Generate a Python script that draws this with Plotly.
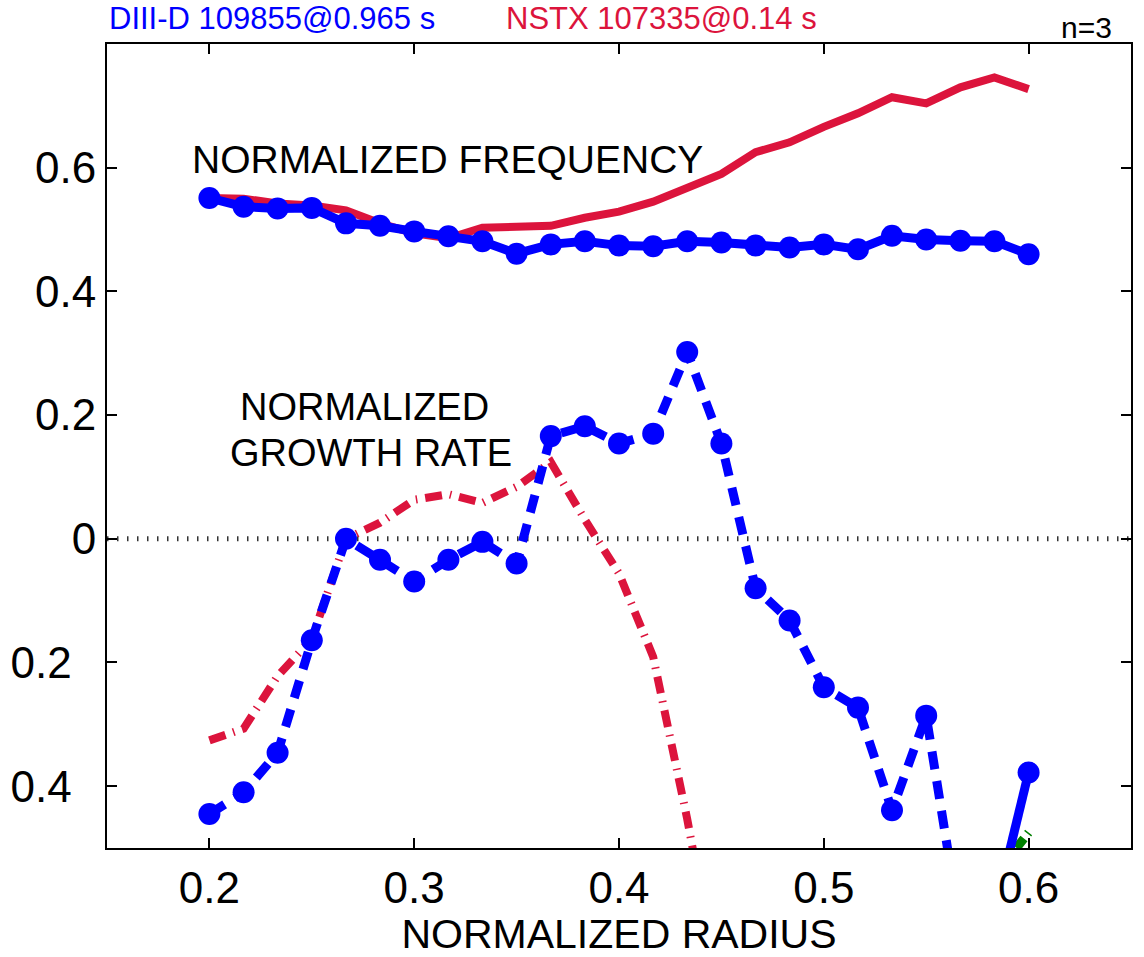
import plotly.graph_objects as go

# ---- data ----
radius = [0.2, 0.2167, 0.2333, 0.25, 0.2667, 0.2833, 0.3, 0.3167, 0.3333, 0.35,
          0.3667, 0.3833, 0.4, 0.4167, 0.4333, 0.45, 0.4667, 0.4833, 0.5, 0.5167,
          0.5333, 0.55, 0.5667, 0.5833, 0.6]

freq_diiid = [0.551, 0.537, 0.534, 0.535, 0.510, 0.506, 0.497, 0.489, 0.481, 0.461,
              0.476, 0.481, 0.474, 0.473, 0.481, 0.479, 0.474, 0.471, 0.476, 0.468,
              0.490, 0.484, 0.482, 0.481, 0.460]

freq_nstx = [0.551, 0.550, 0.542, 0.539, 0.531, 0.510, 0.494, 0.486, 0.503, 0.506,
             0.506, 0.519, 0.529, 0.545, 0.569, 0.590, 0.625, 0.641, 0.666, 0.688,
             0.714, 0.704, 0.730, 0.746, 0.727]

gr_diiid = [-0.445, -0.410, -0.346, -0.164, 0.000, -0.034, -0.069, -0.034, -0.005, -0.040,
            0.166, 0.182, 0.154, 0.170, 0.302, 0.154, -0.080, -0.132, -0.240, -0.273,
            -0.439, -0.286, -0.630, -0.606, -0.378]

radius_nstx_gr = [0.2, 0.2167, 0.2333, 0.25, 0.2667, 0.2833, 0.3, 0.3167, 0.3333, 0.35,
                  0.3667, 0.3833, 0.4, 0.4167, 0.4333, 0.45]
gr_nstx = [-0.326, -0.307, -0.222, -0.162, 0.000, 0.026, 0.063, 0.072, 0.058, 0.084,
           0.124, 0.031, -0.056, -0.191, -0.453, -0.750]

radius_green = [0.6, 0.5833]
gr_green = [-0.475, -0.545]

x_ticks = [0.2, 0.3, 0.4, 0.5, 0.6]
y_ticks = [-0.4, -0.2, 0, 0.2, 0.4, 0.6]
y_ticktext = ["0.4\u00a0\u00a0", "0.2\u00a0\u00a0", "0", "0.2", "0.4", "0.6"]

BLUE = "rgb(0,0,255)"
RED = "rgb(220,20,60)"
GREEN = "rgb(0,128,0)"
FONT = "Liberation Sans, Arial, sans-serif"

fig = go.Figure()

# zero reference line (dotted)
fig.add_trace(go.Scatter(x=[0.15, 0.65], y=[0, 0], mode="lines",
                         line=dict(color="#333333", width=5, dash="1.5px,8.5px"),
                         hoverinfo="skip", showlegend=False))

# frequency curves
fig.add_trace(go.Scatter(x=radius, y=freq_nstx, mode="lines",
                         line=dict(color=RED, width=8), showlegend=False))
fig.add_trace(go.Scatter(x=radius, y=freq_diiid, mode="lines+markers",
                         line=dict(color=BLUE, width=9),
                         marker=dict(color=BLUE, size=22, opacity=1), showlegend=False))

# growth rate curves
fig.add_trace(go.Scatter(x=radius_nstx_gr, y=gr_nstx, mode="lines",
                         line=dict(color=RED, width=8, dash="17px,8px,1.5px,8px"),
                         showlegend=False))
fig.add_trace(go.Scatter(x=radius_green, y=gr_green, mode="lines",
                         line=dict(color=GREEN, width=9, dash="1.5px,6px,12px,6px"),
                         showlegend=False))
fig.add_trace(go.Scatter(x=radius[:24], y=gr_diiid[:24], mode="lines",
                         line=dict(color=BLUE, width=9, dash="18px,12px"),
                         showlegend=False))
fig.add_trace(go.Scatter(x=radius[23:], y=gr_diiid[23:], mode="lines",
                         line=dict(color=BLUE, width=9), showlegend=False))
fig.add_trace(go.Scatter(x=radius, y=gr_diiid, mode="markers",
                         marker=dict(color=BLUE, size=22, opacity=1), showlegend=False))

annotations = [
    dict(text="DIII-D 109855@0.965 s", xref="paper", yref="paper", x=0.0, y=1.032,
         xanchor="left", yanchor="middle", showarrow=False,
         font=dict(color=BLUE, size=31, family=FONT)),
    dict(text="NSTX 107335@0.14 s", xref="paper", yref="paper", x=0.388, y=1.032,
         xanchor="left", yanchor="middle", showarrow=False,
         font=dict(color=RED, size=31, family=FONT)),
    dict(text="n=3", xref="paper", yref="paper", x=0.983, y=1.02,
         xanchor="right", yanchor="middle", showarrow=False,
         font=dict(color="black", size=30, family=FONT)),
    dict(text="NORMALIZED FREQUENCY", x=0.1905, y=0.6125, xanchor="left", yanchor="middle",
         showarrow=False, font=dict(color="black", size=39, family=FONT)),
    dict(text="NORMALIZED", x=0.2758, y=0.2135, xanchor="center", yanchor="middle",
         showarrow=False, font=dict(color="black", size=38, family=FONT)),
    dict(text="GROWTH RATE", x=0.2787, y=0.139, xanchor="center", yanchor="middle",
         showarrow=False, font=dict(color="black", size=38, family=FONT)),
]

fig.update_layout(
    width=1144, height=957,
    margin=dict(l=107, r=11, t=44, b=105),
    paper_bgcolor="white", plot_bgcolor="white",
    font=dict(family=FONT, color="black"),
    annotations=annotations,
    xaxis=dict(range=[0.15, 0.65], tickvals=x_ticks, ticktext=[str(v) for v in x_ticks],
               ticks="inside", ticklen=10, tickwidth=1.5, tickcolor="black",
               showline=True, linecolor="black", linewidth=2, mirror="ticks",
               showgrid=False, zeroline=False, tickfont=dict(size=44),
               title=dict(text="NORMALIZED RADIUS", font=dict(size=41), standoff=6)),
    yaxis=dict(range=[-0.5, 0.8], tickvals=y_ticks, ticktext=y_ticktext,
               ticks="inside", ticklen=10, tickwidth=1.5, tickcolor="black",
               showline=True, linecolor="black", linewidth=2, mirror="ticks",
               showgrid=False, zeroline=False, tickfont=dict(size=44)),
)

fig.write_html("out.html")
